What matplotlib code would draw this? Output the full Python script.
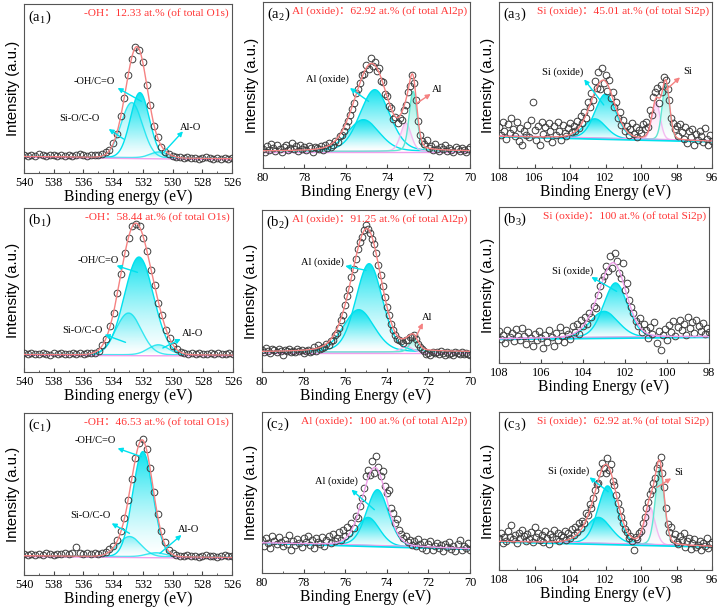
import numpy as np
import matplotlib
matplotlib.use("Agg")
import matplotlib.pyplot as plt
from matplotlib.ticker import MultipleLocator

plt.rcParams['font.family'] = ['Liberation Serif', 'Noto Sans CJK SC']
plt.rcParams['mathtext.fontset'] = 'custom'
plt.rcParams['mathtext.rm'] = 'Liberation Serif'

# ---------------- data (intensity in a.u.) ----------------
# O1s, 540 -> 526 eV
a1_y = [53, 50, 55, 52, 57, 54, 51, 55, 53, 50,
        54, 52, 55, 51, 53, 56, 54, 52, 55, 53,
        55, 57, 62, 70, 90, 117, 170, 224, 293, 342,
        379, 370, 334, 265, 204, 141, 108, 78, 64, 58,
        50, 47, 48, 45, 47, 44, 46, 43, 45, 47,
        44, 42, 46, 43, 45, 41, 44]
b1_y = [56, 54, 58, 55, 53, 57, 55, 52, 56, 54,
        57, 55, 53, 56, 54, 57, 55, 58, 56, 57,
        64, 82, 99, 137, 176, 236, 293, 357, 401, 439,
        444, 438, 401, 363, 307, 262, 208, 170, 127, 103,
        78, 69, 61, 57, 55, 56, 54, 57, 55, 53,
        56, 54, 57, 55, 53, 56, 54]
c1_y = [62, 60, 64, 61, 63, 60, 65, 62, 61, 64,
        63, 66, 62, 65, 84, 66, 63, 65, 64, 66,
        63, 66, 70, 78, 88, 106, 133, 171, 225, 288,
        350, 396, 407, 378, 320, 250, 183, 133, 98, 76,
        66, 61, 58, 57, 59, 56, 58, 55, 57, 59,
        56, 58, 55, 57, 60, 56, 58]

# Al2p, 80 -> 70 eV
a2_y = [58, 49, 66, 55, 72, 60, 52, 68, 57, 47,
        63, 70, 54, 61, 74, 56, 65, 50, 69, 58,
        62, 53, 67, 59, 49, 64, 60, 57, 66, 55,
        70, 61, 75, 64, 68, 82, 79, 96, 98, 110,
        126, 141, 160, 178, 196, 225, 236, 255, 278, 282,
        310, 298, 330, 305, 318, 290, 300, 262, 258, 222,
        215, 186, 180, 148, 152, 135, 150, 145, 175, 190,
        228, 245, 280, 255, 205, 140, 98, 80, 72, 85,
        60, 66, 55, 72, 58, 50, 63, 56, 68, 52,
        61, 55, 48, 64, 57, 52, 60, 54, 49, 58,
        62]
b2_y = [66, 60, 72, 63, 58, 70, 65, 61, 68, 64,
        52, 67, 62, 70, 59, 64, 61, 68, 63, 66,
        58, 62, 65, 60, 63, 75, 64, 80, 69, 72,
        74, 84, 80, 92, 95, 110, 118, 132, 155, 172,
        200, 228, 250, 285, 310, 340, 368, 390, 405, 425,
        440, 428, 418, 400, 385, 356, 320, 290, 258, 225,
        195, 170, 145, 125, 110, 100, 95, 93, 88, 97,
        95, 104, 105, 110, 98, 85, 75, 68, 62, 55,
        58, 50, 61, 56, 59, 53, 62, 57, 51, 60,
        55, 58, 52, 61, 56, 54, 59, 53, 57, 55,
        52]
c2_y = [98, 82, 105, 90, 75, 112, 95, 86, 108, 92,
        80, 100, 88, 115, 68, 96, 84, 102, 90, 78,
        106, 94, 110, 85, 98, 76, 104, 92, 88, 108,
        82, 100, 112, 90, 118, 96, 105, 122, 98, 128,
        110, 138, 120, 150, 135, 172, 165, 200, 225, 255,
        290, 310, 295, 335, 300, 352, 318, 290, 305, 262,
        240, 248, 195, 180, 150, 162, 128, 118, 105, 112,
        92, 100, 85, 96, 80, 102, 88, 75, 92, 70,
        86, 95, 68, 82, 90, 74, 84, 66, 88, 78,
        92, 72, 80, 65, 86, 98, 70, 82, 76, 90,
        68]

# Si2p, 108 -> 96 eV (b3: 108 -> 98 eV)
a3_y = [125, 98, 140, 110, 88, 132, 105, 150, 118, 95,
        138, 80, 120, 70, 112, 100, 130, 92, 145, 200,
        115, 85, 128, 68, 140, 102, 122, 90, 135, 110,
        78, 126, 98, 140, 112, 85, 130, 104, 95, 120,
        135, 108, 128, 112, 142, 120, 158, 135, 170, 150,
        198, 185, 225, 205, 262, 240, 290, 238, 300, 255,
        280, 232, 265, 210, 228, 185, 200, 150, 168, 130,
        145, 112, 128, 98, 118, 135, 102, 125, 92, 115,
        105, 132, 118, 140, 125, 175, 160, 215, 228, 240,
        195, 250, 230, 275, 265, 238, 205, 150, 135, 118,
        128, 95, 132, 108, 88, 122, 75, 110, 92, 118,
        70, 102, 85, 112, 95, 78, 120, 88, 70, 100,
        82]
b3_y = [95, 72, 85, 60, 98, 78, 90, 66, 102, 80,
        70, 105, 82, 58, 92, 75, 50, 88, 68, 96,
        74, 45, 84, 62, 100, 78, 52, 90, 70, 108,
        82, 64, 98, 86, 72, 112, 94, 118, 88, 128,
        110, 138, 118, 150, 138, 172, 165, 205, 230, 248,
        262, 290, 275, 320, 285, 330, 305, 270, 255, 300,
        218, 240, 190, 168, 150, 125, 110, 135, 92, 118,
        100, 75, 108, 88, 122, 60, 95, 38, 85, 102,
        70, 115, 92, 125, 80, 108, 130, 98, 118, 85,
        138, 104, 122, 90, 128, 110, 95, 120, 88, 105,
        92]
c3_y = [95, 110, 82, 100, 88, 118, 98, 135, 92, 105,
        80, 112, 96, 120, 102, 88, 108, 94, 115, 85,
        128, 99, 110, 90, 104, 84, 116, 95, 78, 108,
        100, 120, 92, 112, 86, 105, 98, 118, 90, 110,
        96, 122, 104, 128, 115, 140, 125, 148, 140, 172,
        165, 198, 185, 215, 240, 258, 262, 290, 320, 305,
        292, 335, 300, 318, 268, 255, 225, 200, 180, 160,
        142, 122, 115, 95, 102, 88, 60, 98, 92, 110,
        118, 140, 158, 185, 205, 228, 240, 262, 275, 305,
        318, 340, 290, 250, 185, 138, 115, 128, 92, 108,
        85, 78, 102, 90, 110, 70, 86, 95, 62, 80,
        92, 68, 75, 88, 60, 82, 72, 95, 65, 78,
        84]

# fitted components: (centre eV, height, FWHM eV, kind)
a1_peaks = [(532.75, 165, 1.7, 'ox2'), (532.2, 195, 1.5, 'ox'), (530.9, 18, 1.4, 'ox2')]
b1_peaks = [(533.0, 125, 2.0, 'ox2'), (532.3, 293, 2.3, 'ox'), (531.0, 30, 1.6, 'ox2')]
c1_peaks = [(532.9, 60, 1.8, 'ox2'), (532.0, 315, 1.6, 'ox'), (531.1, 12, 1.5, 'ox2')]
a2_peaks = [(75.15, 95, 1.8, 'ox'), (74.6, 185, 1.7, 'ox'), (73.1, 85, 0.6, 'pink'), (72.75, 180, 0.45, 'mint')]
b2_peaks = [(75.35, 127, 1.75, 'ox'), (74.85, 265, 1.5, 'ox'), (73.05, 18, 0.6, 'pink'), (72.7, 37, 0.5, 'mint')]
c2_peaks = [(74.9, 86, 1.3, 'ox'), (74.45, 170, 1.25, 'ox')]
a3_peaks = [(102.6, 60, 1.5, 'ox'), (102.0, 135, 1.4, 'ox'), (99.15, 115, 0.55, 'pink'), (98.6, 170, 0.5, 'mint')]
b3_peaks = [(103.0, 80, 1.6, 'ox'), (102.45, 165, 1.35, 'ox')]
c3_peaks = [(102.4, 80, 1.7, 'ox'), (101.88, 175, 1.3, 'ox'), (99.5, 115, 0.7, 'pink'), (98.94, 230, 0.6, 'mint')]

# background level at (high BE end, low BE end)
a1_bg, b1_bg, c1_bg = (50, 43), (53, 51), (58, 53)
a2_bg, b2_bg, c2_bg = (50, 50), (60, 60), (90, 72)
a3_bg, b3_bg, c3_bg = (95, 80), (72, 78), (85, 70)

titles = ['-OH：12.33 at.% (of total O1s)', 'Al (oxide)：62.92 at.% (of total Al2p)',
          'Si (oxide)：45.01 at.% (of total Si2p)',
          '-OH：58.44 at.% (of total O1s)', 'Al (oxide)：91.25 at.% (of total Al2p)',
          'Si (oxide)：100 at.% (of total Si2p)',
          '-OH：46.53 at.% (of total O1s)', 'Al (oxide)：100 at.% (of total Al2p)',
          'Si (oxide)：62.92 at.% (of total Si2p)']

W, H = 720, 609
fig = plt.figure(figsize=(W / 100, H / 100), dpi=100)

kind_style = {'ox': ('#00e1ee', 0.95), 'ox2': ('#00e1ee', 0.45),
              'pink': ('#f4b4f0', 0.6), 'mint': ('#5fe6d2', 0.75)}
CYAN = '#00e1ee'
SALMON = '#f58282'
MAGENTA = '#f0a0ec'


def grad_fill(ax, x, base, top, color, amax):
    poly = ax.fill_between(x, base, top, facecolor='none', edgecolor='none')
    n = 200
    rgb = matplotlib.colors.to_rgb(color)
    grad = np.zeros((n, 1, 4))
    grad[:, 0, :3] = rgb
    grad[:, 0, 3] = amax * np.linspace(0, 1, n) ** 1.4
    im = ax.imshow(grad, extent=[x.min(), x.max(), base.min(), top.max()],
                   origin='lower', aspect='auto', zorder=1, interpolation='bilinear')
    im.set_clip_path(poly.get_paths()[0], transform=ax.transData)


def panel(rect, xr, ytop, y, peaks, bg_ends, mix, env_col, bg_col, xlab, tag, title, ms):
    l, r, t, b = rect
    ax = fig.add_axes([l / W, 1 - b / H, (r - l) / W, (b - t) / H])
    xf = np.linspace(xr[1], xr[0], 800)
    bg = bg_ends[1] + (bg_ends[0] - bg_ends[1]) * (xf - xr[1]) / (xr[0] - xr[1])
    env = bg.copy()
    for c, h, w, kind in peaks:
        d = (xf - c) / w
        g = h * ((1 - mix) * np.exp(-4 * np.log(2) * d ** 2) + mix / (1 + 4 * d ** 2))
        env += g
        col, a = kind_style[kind]
        grad_fill(ax, xf, bg, bg + g, col, a)
        ax.plot(xf, bg + g, color=col, lw=1.0, alpha=min(1, a + 0.3), zorder=2)
    if bg_col == 'cyan':
        ax.plot(xf, bg, color=CYAN, lw=1.8, zorder=2)
        ax.plot(xf, bg + 3, color=MAGENTA, lw=0.8, zorder=2)
    else:
        ax.plot(xf, bg - 3, color=MAGENTA, lw=1.0, zorder=2)
    xs = np.linspace(xr[0], xr[1], len(y))
    ax.plot(xs, y, 'o', mfc='none', mec='#3c3c3c', mew=0.7, ms=ms, zorder=3)
    ax.plot(xf, env, color=env_col, lw=1.0, zorder=4)
    ax.set_xlim(xr)
    ax.set_ylim(0, ytop)
    ax.set_yticks([])
    ax.xaxis.set_major_locator(MultipleLocator(2))
    ax.xaxis.set_minor_locator(MultipleLocator(1))
    ax.tick_params(axis='x', which='both', direction='in', labelsize=8.8, pad=3,
                   top=False, color='#444444')
    ax.tick_params(axis='x', which='major', length=3)
    ax.tick_params(axis='x', which='minor', length=1.6)
    for s in ax.spines.values():
        s.set_color('#555555')
        s.set_linewidth(0.8)
    ax.set_xlabel(xlab, fontsize=11.2, labelpad=0)
    ax.set_ylabel('Intensity (a.u.)', fontsize=10.8, labelpad=3, family='Liberation Sans')
    ax.text(0.02, 0.975, tag, transform=ax.transAxes, ha='left', va='top', fontsize=10.5)
    ax.text(0.985, 0.975, title, transform=ax.transAxes, ha='right', va='top',
            fontsize=8.2, color='#ff3434',
            family=['Liberation Serif', 'Noto Sans CJK SC'])
    return ax


def label(ax, text, txy, head, tail, col):
    ax.text(txy[0], txy[1], text, ha='center', va='center', fontsize=7.5, zorder=6)
    ax.annotate('', xy=head, xytext=tail, zorder=6,
                arrowprops=dict(arrowstyle='-|>', color=col, lw=1.0, mutation_scale=7,
                                shrinkA=0, shrinkB=0))


BE1 = 'Binding energy (eV)'
BE2 = 'Binding Energy (eV)'

# row a
ax = panel((24, 232, 4, 173), (540, 526), 507, a1_y, a1_peaks, a1_bg, 0.0, SALMON, 'pink',
           BE1, r'(a$_\mathregular{1}$)', titles[0], 4.8)
label(ax, '-OH/C=O', (535.3, 273), (533.7, 255), (532.1, 215), CYAN)
label(ax, 'Si-O/C-O', (536.3, 163), (534.3, 132), (533.3, 102), CYAN)
label(ax, 'Al-O', (528.8, 135), (529.3, 125), (530.6, 62), CYAN)

ax = panel((263, 470, 2, 168), (80, 70), 498, a2_y, a2_peaks, a2_bg, 0.2, SALMON, 'pink',
           BE2, r'(a$_\mathregular{2}$)', titles[1], 4.8)
label(ax, 'Al (oxide)', (76.9, 265), (75.8, 240), (74.9, 200), CYAN)
label(ax, 'Al', (71.6, 237), (71.9, 222), (72.6, 193), SALMON)

ax = panel((499, 712, 2, 168), (108, 96), 500, a3_y, a3_peaks, a3_bg, 0.2, SALMON, 'cyan',
           BE2, r'(a$_\mathregular{3}$)', titles[2], 4.8)
label(ax, 'Si (oxide)', (104.4, 290), (103.2, 267), (102.1, 190), CYAN)
label(ax, 'Si', (97.4, 290), (97.8, 273), (98.6, 235), SALMON)

# row b
ax = panel((24, 233, 208, 372), (540, 526), 492, b1_y, b1_peaks, b1_bg, 0.0, SALMON, 'pink',
           BE1, r'(b$_\mathregular{1}$)', titles[3], 4.8)
label(ax, '-OH/C=O', (535.0, 334), (533.8, 319), (532.4, 299), CYAN)
label(ax, 'Si-O/C-O', (536.1, 124), (534.6, 112), (533.2, 89), CYAN)
label(ax, 'Al-O', (528.7, 115), (529.5, 99), (530.7, 72), CYAN)

ax = panel((262, 470, 210, 372), (80, 70), 486, b2_y, b2_peaks, b2_bg, 0.2, SALMON, 'pink',
           BE2, r'(b$_\mathregular{2}$)', titles[4], 4.8)
label(ax, 'Al (oxide)', (77.1, 330), (76.0, 318), (75.0, 305), CYAN)
label(ax, 'Al', (72.05, 165), (72.27, 147), (72.56, 110), SALMON)

ax = panel((499, 709, 207, 363), (108, 98), 468, b3_y, b3_peaks, b3_bg, 0.2, MAGENTA, 'cyan',
           BE2, r'(b$_\mathregular{3}$)', titles[5], 4.8)
label(ax, 'Si (oxide)', (104.5, 275), (103.6, 258), (102.4, 215), CYAN)

# row c
ax = panel((24, 232, 413, 575), (540, 526), 486, c1_y, c1_peaks, c1_bg, 0.0, SALMON, 'pink',
           BE1, r'(c$_\mathregular{1}$)', titles[6], 4.8)
label(ax, '-OH/C=O', (535.2, 402), (533.7, 380), (532.1, 355), CYAN)
label(ax, 'Si-O/C-O', (535.5, 177), (534.1, 155), (532.9, 125), CYAN)
label(ax, 'Al-O', (528.95, 137), (529.4, 120), (530.85, 65), CYAN)

ax = panel((262, 470, 412, 573), (80, 70), 483, c2_y, c2_peaks, c2_bg, 0.2, MAGENTA, 'cyan',
           BE2, r'(c$_\mathregular{2}$)', titles[7], 4.8)
label(ax, 'Al (oxide)', (76.4, 275), (75.7, 250), (74.6, 190), CYAN)

ax = panel((499, 712, 412, 570), (108, 96), 474, c3_y, c3_peaks, c3_bg, 0.2, SALMON, 'cyan',
           BE2, r'(c$_\mathregular{3}$)', titles[8], 4.8)
label(ax, 'Si (oxide)', (104.1, 295), (102.9, 278), (101.85, 235), CYAN)
label(ax, 'Si', (97.9, 292), (98.3, 275), (99.1, 248), SALMON)

fig.savefig('out.png', dpi=100)
